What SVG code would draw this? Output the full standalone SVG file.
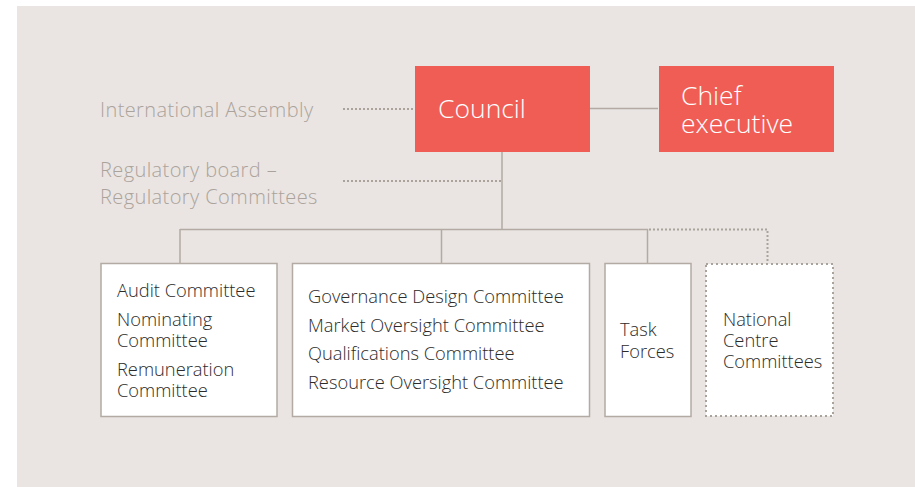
<svg xmlns="http://www.w3.org/2000/svg" width="915" height="487" viewBox="0 0 915 487">
<style>
.bg{fill:#fff}
.panel{fill:#eae5e2}
.red{fill:#f05d55}
.box{fill:#fff;stroke:#b3aba3;stroke-width:1.5}
.dbox{fill:#fff;stroke:#aaa39c;stroke-width:2;stroke-dasharray:2 3}
.ln{fill:none;stroke:#b3aba3;stroke-width:1.5}
.dl{fill:none;stroke:#aaa39c;stroke-width:2;stroke-dasharray:2 2}
text{font-family:"Open Sans","Noto Sans",sans-serif;font-weight:300}
.wt{fill:#fff;font-size:26.5px}
.gt{fill:#aaa39c;font-size:20px;letter-spacing:0.4px}
.bt{fill:#2b2b2b;font-size:18.3px}
</style>
<rect class="bg" x="0" y="0" width="915" height="487"/>
<rect class="panel" x="17" y="6" width="898" height="481"/>
<g id="connectors">
<path class="ln" d="M590 108.5H658"/>
<path class="dl" d="M343 109H414"/>
<path class="dl" d="M343 181H502"/>
<path class="ln" d="M502 152V229.5M180 229.5H648M180 229V263M441.5 229V263M647.5 229V263"/>
<path class="dl" d="M649 229.5H767.5V262"/>
</g>
<g id="international-assembly"><text class="gt" x="100" y="117">International Assembly</text></g>
<g id="regulatory"><text class="gt" x="100" y="177">Regulatory board –</text><text class="gt" x="100" y="204">Regulatory Committees</text></g>
<g id="council"><rect class="red" x="415" y="66" width="175" height="86"/><text class="wt" x="438" y="118">Council</text></g>
<g id="chief-executive"><rect class="red" x="659" y="66" width="175" height="86"/><text class="wt" x="681" y="105">Chief</text><text class="wt" x="681" y="133">executive</text></g>
<g id="committees-1"><rect class="box" x="101" y="263.5" width="176" height="153"/>
<text class="bt" x="117" y="297">Audit Committee</text>
<text class="bt" x="117" y="326">Nominating</text>
<text class="bt" x="117" y="347">Committee</text>
<text class="bt" x="117" y="376">Remuneration</text>
<text class="bt" x="117" y="397">Committee</text></g>
<g id="committees-2"><rect class="box" x="292.5" y="263.5" width="297" height="153"/>
<text class="bt" x="308" y="303">Governance Design Committee</text>
<text class="bt" x="308" y="332">Market Oversight Committee</text>
<text class="bt" x="308" y="360">Qualifications Committee</text>
<text class="bt" x="308" y="389">Resource Oversight Committee</text></g>
<g id="task-forces"><rect class="box" x="605" y="263.5" width="86" height="153"/>
<text class="bt" x="620" y="336">Task</text>
<text class="bt" x="620" y="358">Forces</text></g>
<g id="national-centre"><rect class="dbox" x="706" y="264" width="127" height="152"/>
<text class="bt" x="723" y="326">National</text>
<text class="bt" x="723" y="347">Centre</text>
<text class="bt" x="723" y="368">Committees</text></g>
</svg>
